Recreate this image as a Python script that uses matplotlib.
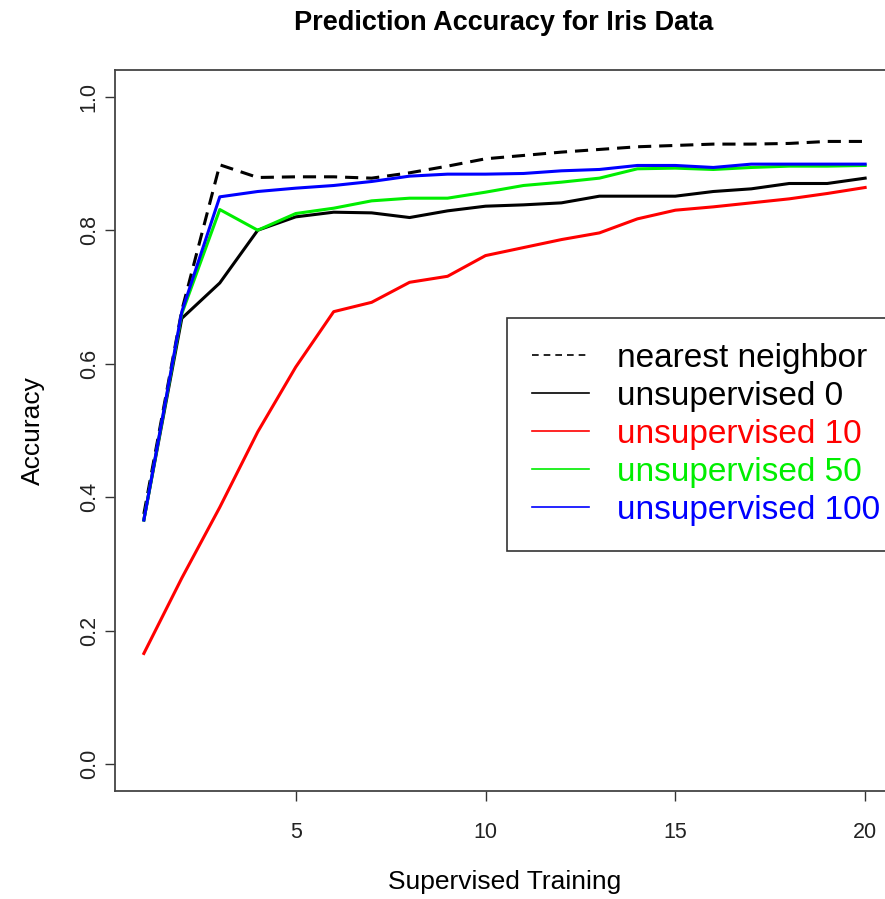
import matplotlib
matplotlib.use("Agg")
import matplotlib.pyplot as plt
from matplotlib.lines import Line2D

plt.rcParams['font.family'] = ['Liberation Sans', 'DejaVu Sans']

# data
training = list(range(1, 21))
nearest_neighbor = [0.375, 0.680, 0.898, 0.879, 0.880, 0.880, 0.878, 0.886, 0.896, 0.907,
                    0.912, 0.917, 0.921, 0.925, 0.927, 0.929, 0.929, 0.930, 0.933, 0.933]
unsup_0 = [0.366, 0.668, 0.721, 0.800, 0.820, 0.827, 0.826, 0.819, 0.829, 0.836,
           0.838, 0.841, 0.851, 0.851, 0.851, 0.858, 0.862, 0.870, 0.870, 0.878]
unsup_10 = [0.166, 0.279, 0.385, 0.498, 0.595, 0.678, 0.692, 0.722, 0.731, 0.762,
            0.774, 0.786, 0.796, 0.817, 0.830, 0.835, 0.841, 0.847, 0.855, 0.864]
unsup_50 = [0.366, 0.675, 0.831, 0.800, 0.825, 0.833, 0.844, 0.848, 0.848, 0.857,
            0.867, 0.872, 0.878, 0.892, 0.893, 0.891, 0.894, 0.896, 0.896, 0.897]
unsup_100 = [0.366, 0.678, 0.850, 0.858, 0.863, 0.867, 0.873, 0.881, 0.884, 0.884,
             0.885, 0.889, 0.891, 0.897, 0.897, 0.894, 0.899, 0.899, 0.899, 0.899]

labels = ["nearest neighbor", "unsupervised 0", "unsupervised 10",
          "unsupervised 50", "unsupervised 100"]
colors = ["black", "black", "red", "#00ee00", "blue"]

W, H = 885, 899
fig = plt.figure(figsize=(W / 100, H / 100), dpi=100)
ax = fig.add_axes([115 / W, 1 - 791 / H, 779 / W, 721 / H])

lw = 2.2
ax.plot(training, nearest_neighbor, color="black", lw=lw, dashes=(4.3, 2.6))
ax.plot(training, unsup_0, color=colors[1], lw=lw)
ax.plot(training, unsup_10, color=colors[2], lw=lw)
ax.plot(training, unsup_50, color=colors[3], lw=lw)
ax.plot(training, unsup_100, color=colors[4], lw=lw)

ax.set_xlim(0.24, 20.76)
ax.set_ylim(-0.04, 1.04)
ax.set_xticks([5, 10, 15, 20])
ax.set_yticks([0.0, 0.2, 0.4, 0.6, 0.8, 1.0])
ax.set_yticklabels(["0.0", "0.2", "0.4", "0.6", "0.8", "1.0"], rotation=90, va="center")
ax.tick_params(axis="both", direction="out", length=7, width=1, labelsize=15.5,
               colors="#333333", labelcolor="#222222")
ax.tick_params(axis="x", pad=15)
ax.tick_params(axis="y", pad=4)
for s in ax.spines.values():
    s.set_color("#444444")
    s.set_linewidth(1.3)

ax.set_xlabel("Supervised Training", fontsize=19, labelpad=20)
ax.set_ylabel("Accuracy", fontsize=19, labelpad=24)
fig.text(504 / W, 1 - 23 / H, "Prediction Accuracy for Iris Data",
         fontsize=19.5, fontweight="bold", ha="center", va="center")

handles = [Line2D([], [], color="black", lw=1.2, dashes=(4, 3))]
handles += [Line2D([], [], color=c, lw=1.2) for c in colors[1:]]
leg = ax.legend(handles, labels, loc="upper left",
                bbox_to_anchor=(507 / W, 1 - 318 / H), bbox_transform=fig.transFigure,
                fontsize=24, frameon=True, fancybox=False, borderpad=0.75,
                labelspacing=0.21, handlelength=1.7, handletextpad=0.85,
                borderaxespad=0)
leg.get_frame().set_edgecolor("black")
leg.get_frame().set_linewidth(1.2)
for t, c in zip(leg.get_texts(), colors):
    t.set_color(c)

fig.savefig("out.png", dpi=100)
